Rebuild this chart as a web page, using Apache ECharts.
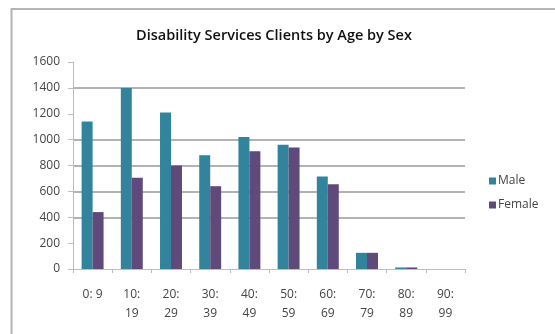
<!DOCTYPE html>
<html>
<head>
<meta charset="utf-8">
<script src="https://cdn.jsdelivr.net/npm/echarts@6/dist/echarts.min.js"></script>
<style>
  html, body { margin: 0; padding: 0; background: #fff; }
  #chart { width: 555px; height: 334px; }
</style>
</head>
<body>
<div id="chart"></div>
<script>
// Age bands and client counts per sex
const ageBands = ['0: 9', '10: 19', '20: 29', '30: 39', '40: 49', '50: 59', '60: 69', '70: 79', '80: 89', '90: 99'];
const maleClients = [1140, 1400, 1210, 880, 1020, 960, 715, 125, 12, 0];
const femaleClients = [440, 705, 800, 640, 910, 940, 655, 125, 12, 0];
const yTicks = [0, 200, 400, 600, 800, 1000, 1200, 1400, 1600];

const chart = echarts.init(document.getElementById('chart'));
const FONT = 'Open Sans, Liberation Sans, sans-serif';

// Gridline colours cycle per tick (0..1600); some rules are left out
const gridColors = yTicks.map(v => (v === 0 || v === 200 || v === 1200 || v === 1600) ? 'rgba(0,0,0,0)' : '#9a9a9a');

chart.setOption({
  animation: false,
  backgroundColor: '#fff',
  title: {
    text: 'Disability Services Clients by Age by Sex',
    left: 269,
    textAlign: 'center',
    top: 23,
    textStyle: { fontFamily: FONT, fontSize: 14.5, fontWeight: 600, color: '#111' }
  },
  graphic: [{
    type: 'rect',
    shape: { x: 11.5, y: 9, width: 700, height: 500 },
    style: { fill: 'none', stroke: '#b4b4b4', lineWidth: 2 },
    silent: true
  }],
  legend: {
    orient: 'vertical',
    left: 484,
    top: 170,
    itemWidth: 7,
    itemHeight: 7,
    itemGap: 12,
    icon: 'rect',
    textStyle: { fontFamily: FONT, fontSize: 12, color: '#444', padding: [0, 0, 0, -3] },
    data: ['Male', 'Female']
  },
  grid: { left: 73, right: 90, top: 62, bottom: 65 },
  xAxis: {
    type: 'category',
    data: ageBands,
    axisLine: { lineStyle: { color: '#bdbdbd', width: 1 } },
    axisTick: { show: true, length: 4, alignWithLabel: false, lineStyle: { color: '#bdbdbd' } },
    axisLabel: {
      fontFamily: FONT, fontSize: 12, color: '#444', margin: 16, lineHeight: 19,
      interval: 0,
      formatter: v => v.length > 4 ? v.replace(': ', ':\n') : v
    }
  },
  yAxis: {
    type: 'value',
    min: 0,
    max: 1600,
    interval: 200,
    axisLine: { show: true, lineStyle: { color: '#bdbdbd' } },
    axisTick: { show: true, length: 5, lineStyle: { color: '#bdbdbd' } },
    axisLabel: { fontFamily: FONT, fontSize: 12, color: '#444', margin: 13, formatter: v => String(v) },
    splitLine: { show: true, lineStyle: { color: gridColors, width: 1.5 } }
  },
  series: [
    {
      name: 'Male',
      type: 'bar',
      data: maleClients,
      barGap: '0%',
      barCategoryGap: '44%',
      itemStyle: { color: '#31849b' }
    },
    {
      name: 'Female',
      type: 'bar',
      data: femaleClients,
      itemStyle: { color: '#604a7b' }
    }
  ]
});
</script>
</body>
</html>
